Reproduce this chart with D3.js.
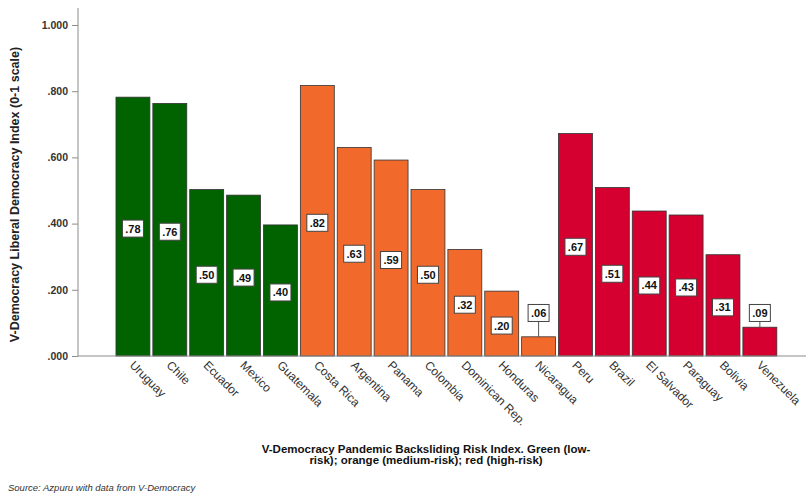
<!DOCTYPE html>
<html>
<head>
<meta charset="utf-8">
<script src="https://cdn.jsdelivr.net/npm/d3@7"></script>
<style>
  body { margin: 0; background: #fff; }
  svg { display: block; font-family: Arial, "Liberation Sans", sans-serif; }
</style>
</head>
<body>
<div id="chart"></div>
<script>
// data
const countries = ['Uruguay', 'Chile', 'Ecuador', 'Mexico', 'Guatemala',
    'Costa Rica', 'Argentina', 'Panama', 'Colombia', 'Dominican Rep.', 'Honduras', 'Nicaragua',
    'Peru', 'Brazil', 'El Salvador', 'Paraguay', 'Bolivia', 'Venezuela'];
const values = [0.782, 0.763, 0.503, 0.486, 0.396,
    0.817, 0.630, 0.592, 0.503, 0.322, 0.196, 0.058,
    0.672, 0.509, 0.438, 0.426, 0.306, 0.087];
const risk = ['low', 'low', 'low', 'low', 'low',
    'medium', 'medium', 'medium', 'medium', 'medium', 'medium', 'medium',
    'high', 'high', 'high', 'high', 'high', 'high'];
const yTicks = [0, 0.2, 0.4, 0.6, 0.8, 1.0];

const width = 806;
const height = 495;

const svg = d3.select('#chart')
    .append('svg')
    .attr('width', width)
    .attr('height', height);

const xScale = d3.scaleBand()
    .domain(countries)
    .range([114.5, 778.3])
    .paddingInner(0.08)
    .paddingOuter(0.04);

const yScale = d3.scaleLinear()
    .domain([0, 1])
    .range([356, 25]);

const colorScale = d3.scaleOrdinal()
    .domain(['low', 'medium', 'high'])
    .range(['#006300', '#f26a2b', '#d5002f']);

// y axis
const yAxis = d3.axisLeft(yScale)
    .tickValues(yTicks)
    .tickSize(6)
    .tickPadding(4)
    .tickFormat(d => d3.format('.3f')(d).replace(/^0/, ''));

const yG = svg.append('g')
    .attr('transform', 'translate(78,0)')
    .call(yAxis);
yG.select('.domain').remove();
yG.append('line')
    .attr('y1', 8).attr('y2', yScale(0))
    .attr('stroke', '#8c8c8c');
yG.selectAll('.tick line').attr('stroke', '#8c8c8c');
yG.selectAll('.tick text')
    .attr('fill', '#333')
    .style('font-size', '10.5px')
    .style('font-weight', 'bold');

// bars
data = countries.map((c, i) => ({ country: c, value: values[i], risk: risk[i] }));

svg.selectAll('.bar')
    .data(data)
    .enter()
    .append('rect')
    .attr('class', 'bar')
    .attr('x', d => xScale(d.country))
    .attr('y', d => yScale(d.value))
    .attr('width', xScale.bandwidth())
    .attr('height', d => yScale(0) - yScale(d.value))
    .attr('fill', d => colorScale(d.risk))
    .attr('stroke', '#333')
    .attr('stroke-width', 0.8);

// x axis line
svg.append('line')
    .attr('x1', 78).attr('x2', width)
    .attr('y1', yScale(0)).attr('y2', yScale(0))
    .attr('stroke', '#8c8c8c');

// value labels
const labelY = d => d.value < 0.15 ? yScale(0.13) : (yScale(d.value) + yScale(0)) / 2 + 2;
const labels = svg.selectAll('.lbl')
    .data(data)
    .enter()
    .append('g')
    .attr('class', 'lbl')
    .attr('transform', d => `translate(${xScale(d.country) + xScale.bandwidth() / 2},${labelY(d)})`);

labels.filter(d => d.value < 0.15)
    .append('line')
    .attr('x1', 0).attr('x2', 0)
    .attr('y1', 8).attr('y2', d => yScale(d.value) - labelY(d))
    .attr('stroke', '#555');

labels.append('rect')
    .attr('x', -10.5).attr('y', -8.5)
    .attr('width', 21).attr('height', 17)
    .attr('fill', '#fff')
    .attr('stroke', '#444')
    .attr('stroke-width', 1);

labels.append('text')
    .attr('text-anchor', 'middle')
    .attr('dy', '0.36em')
    .attr('fill', '#111')
    .style('font-size', '11px')
    .style('font-weight', 'bold')
    .text(d => d3.format('.2f')(d.value).replace(/^0/, ''));

// category labels
svg.selectAll('.cat')
    .data(countries)
    .enter()
    .append('text')
    .attr('class', 'cat')
    .attr('transform', d => `translate(${xScale(d) + xScale.bandwidth() / 2 - 1},${yScale(0) + 7}) rotate(45)`)
    .attr('dy', '0.35em')
    .attr('fill', '#333')
    .style('font-size', '12px')
    .text(d => d);

// axis titles
svg.append('text')
    .attr('transform', `translate(19,${(yScale(0) + yScale(1)) / 2 + 4}) rotate(-90)`)
    .attr('text-anchor', 'middle')
    .attr('fill', '#222')
    .style('font-size', '12.5px')
    .style('font-weight', 'bold')
    .text('V-Democracy Liberal Democracy Index (0-1 scale)');

const xTitle = svg.append('text')
    .attr('text-anchor', 'middle')
    .attr('fill', '#111')
    .style('font-size', '11.5px')
    .style('font-weight', 'bold');
xTitle.append('tspan').attr('x', 426).attr('y', 453)
    .text('V-Democracy Pandemic Backsliding Risk Index. Green (low-');
xTitle.append('tspan').attr('x', 426).attr('y', 464)
    .text('risk); orange (medium-risk); red (high-risk)');

svg.append('text')
    .attr('x', 8).attr('y', 491)
    .attr('fill', '#333')
    .style('font-size', '9.5px')
    .style('font-style', 'italic')
    .text('Source: Azpuru with data from V-Democracy');
</script>
</body>
</html>
